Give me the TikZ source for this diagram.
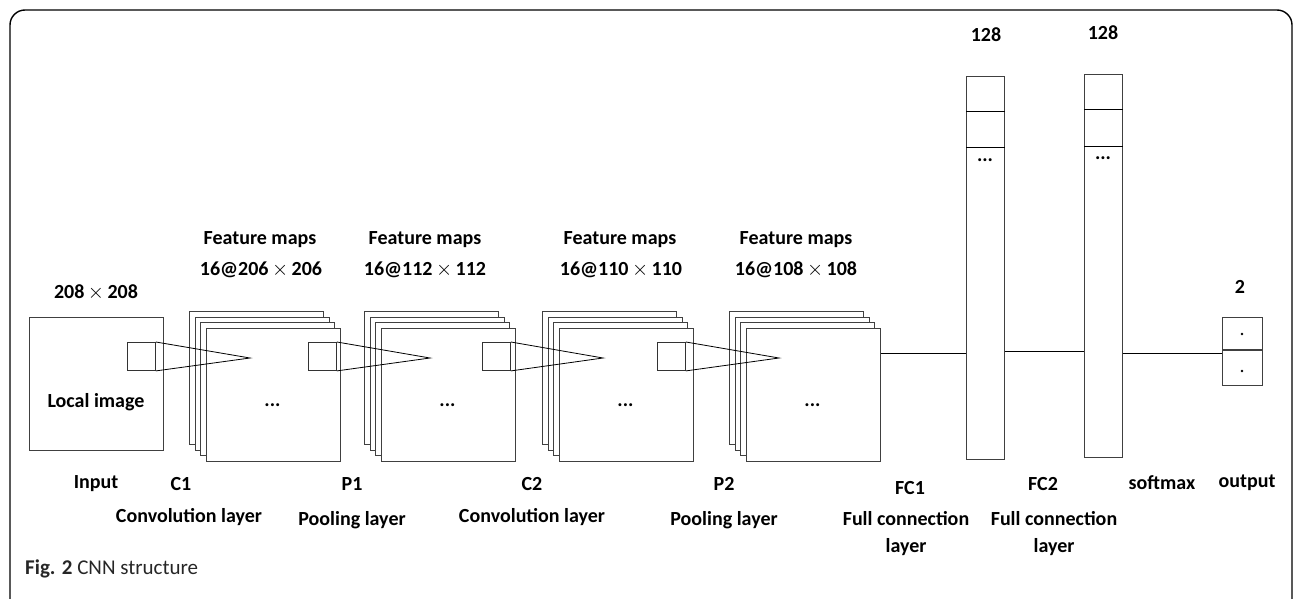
\documentclass[tikz,border=0pt]{standalone}
\usepackage{fontspec}
\setmainfont{Carlito}
\usepackage{tikz}

\begin{document}
\begin{tikzpicture}[x=1pt,y=-1pt,
  every node/.style={font=\bfseries\fontsize{20}{27}\selectfont},
  fmap/.style={draw=black!75,fill=white,line width=0.9pt,inner sep=0pt,
    minimum width=134pt,minimum height=133pt,anchor=north west},
  win/.style={draw=black!80,fill=white,line width=0.9pt,inner sep=0pt,
    minimum size=28pt,anchor=north west},
  bar/.style={draw=black!75,line width=0.9pt,inner sep=0pt,
    minimum width=38pt,minimum height=383pt,anchor=north west},
  link/.style={line width=0.8pt}]
  \useasboundingbox (0,0) rectangle (1295,599);

  % Frame
  \draw[line width=1.4pt,rounded corners=15pt] (10,599) -- (10,10) -- (1292,10) -- (1292,599);

  % Input image
  \node[fmap] (in) at (29,317) {};
  \node (inlbl) at (96,402) {Local image};

  % Feature map stacks (4 layers each)
  \foreach \x/\n in {189/s1,364/s2,542/s3,729/s4}{
    \foreach \k in {0,1,2}
      \node[fmap] (\n\k) at ({\x+\k*5.7},{311+\k*5.7}) {};
    \node[fmap] (\n) at ({\x+17},328) {};
    \node[anchor=base] (\n dots) at ({\x+83.5},406) {...};
  }

  % Receptive field windows
  \node[win] (w0) at (127,342) {};
  \node[win] (w1) at (308,342) {};
  \node[win] (w2) at (482,342) {};
  \node[win] (w3) at (657,342) {};
  \coordinate (a1) at (250,358);
  \coordinate (a2) at (430,358);
  \coordinate (a3) at (603,358);
  \coordinate (a4) at (779,358);
  \draw[link] (w0.north east) -- (a1) -- (w0.south east);
  \draw[link] (w1.north east) -- (a2) -- (w1.south east);
  \draw[link] (w2.north east) -- (a3) -- (w2.south east);
  \draw[link] (w3.north east) -- (a4) -- (w3.south east);

  % Full connection layers
  \node[bar] (fc1) at (966,76) {};
  \draw[link] ([yshift=-35pt]fc1.north west) -- ([yshift=-35pt]fc1.north east);
  \draw[link] ([yshift=-71pt]fc1.north west) -- ([yshift=-71pt]fc1.north east);
  \node[anchor=base] (fc1dots) at (985,161) {...};
  \node[bar] (fc2) at (1084,74) {};
  \draw[link] ([yshift=-35pt]fc2.north west) -- ([yshift=-35pt]fc2.north east);
  \draw[link] ([yshift=-72pt]fc2.north west) -- ([yshift=-72pt]fc2.north east);
  \node[anchor=base] (fc2dots) at (1103,159) {...};

  % Output
  \node[draw=black!75,line width=0.9pt,minimum width=40pt,minimum height=32pt,
    inner sep=0pt,anchor=north west] (o1) at (1222,317) {};
  \node[draw=black!75,line width=0.9pt,minimum width=40pt,minimum height=35pt,
    inner sep=0pt,anchor=north] (o2) at (o1.south) {};
  \fill (1242,334) circle (1.3pt);
  \fill (1242,371) circle (1.3pt);

  % Connections
  \path (s4.north east) ++(0,25) coordinate (j1);
  \path (fc1.north east) ++(0,275) coordinate (j2);
  \path (fc2.north east) ++(0,279) coordinate (j3);
  \draw[link] (j1) -- (j1 -| fc1.west);
  \draw[link] (j2) -- (j2 -| fc2.west);
  \draw[link] (j3) -- (j3 -| o1.west);

  % Top labels
  \node (insz) at (96,292) {208$\,\times\,$208};
  \node (fm1) at (260,240) {Feature maps};
  \node (fm2) at (425,240) {Feature maps};
  \node (fm3) at (620,240) {Feature maps};
  \node (fm4) at (796,240) {Feature maps};
  \node (sz1) at (261,270) {16@206$\,\times\,$206};
  \node (sz2) at (425,270) {16@112$\,\times\,$112};
  \node (sz3) at (621,270) {16@110$\,\times\,$110};
  \node (sz4) at (796,270) {16@108$\,\times\,$108};
  \node (n1) at (986,35) {128};
  \node (n2) at (1103,33) {128};
  \node (n3) at (1240,287) {2};

  % Bottom labels
  \node (l0) at (96,484) {Input};
  \node (l1) at (181,484) {C1};
  \node (l2) at (352,484) {P1};
  \node (l3) at (532,484) {C2};
  \node (l4) at (724,484) {P2};
  \node (l5) at (910,488) {FC1};
  \node (l6) at (1043,484) {FC2};
  \node (l7) at (1162,483) {softmax};
  \node (l8) at (1247,483) {output};
  \node (d1) at (189,517) {Convolution layer};
  \node (d2) at (352,520) {Pooling layer};
  \node (d3) at (532,517) {Convolution layer};
  \node (d4) at (724,520) {Pooling layer};
  \node[align=center] (d5) at (906,533.5) {Full connection\\layer};
  \node[align=center] (d6) at (1054,534) {Full connection\\layer};

  % Caption
  \node[anchor=west,inner sep=0pt,font=\fontsize{21}{26}\selectfont,text=black!85] (cap) at (25,569)
    {\textbf{Fig. 2} CNN structure};
\end{tikzpicture}
\end{document}
